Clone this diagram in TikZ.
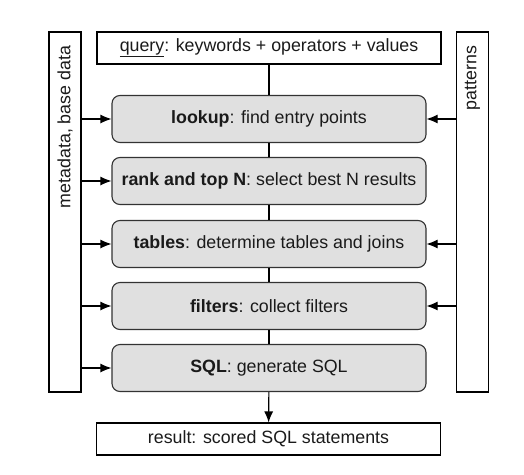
\documentclass[tikz,border=0pt]{standalone}
\usepackage{fontspec}
\setmainfont{Liberation Sans}
\usetikzlibrary{arrows.meta}
\definecolor{stagegray}{HTML}{E0E0E0}
\definecolor{ink}{HTML}{1A1A1A}
\begin{document}
\begin{tikzpicture}[x=1pt,y=-1pt,
  line width=1.1pt,
  >={Latex[length=11pt,width=9pt]},
  io/.style={draw, rectangle, inner sep=0pt, minimum width=344pt, minimum height=32pt,
    font=\fontsize{17.8}{20}\selectfont, text=ink},
  side/.style={draw, rectangle, inner sep=0pt, minimum width=32pt, minimum height=360pt},
  stage/.style={draw=black!80, rounded corners=8pt, fill=stagegray, inner sep=0pt,
    minimum width=314pt, minimum height=47pt, font=\fontsize{17.8}{20}\selectfont, text=ink}]
\useasboundingbox (0,0) rectangle (524,474);

\node[side] (meta) at (65,212) {};
\node[side] (pat) at (472.5,212) {};
\node[rotate=90, anchor=east, font=\fontsize{17.8}{20}\selectfont, text=ink] (metatxt) at (65,42) {metadata, base data};
\node[rotate=90, anchor=east, font=\fontsize{17.8}{20}\selectfont, text=ink] (pattxt) at (472.5,42) {patterns};

\node[io] (query) at (269,48) {\underline{query}: keywords + operators + values};
\node[stage] (lookup) at (269,119) {\textbf{lookup}: find entry points};
\node[stage] (rank) at (269,181) {\textbf{rank and top N}: select best N results};
\node[stage] (tables) at (269,244) {\textbf{tables}: determine tables and joins};
\node[stage] (filters) at (269,306) {\textbf{filters}: collect filters};
\node[stage] (sql) at (269,368) {\textbf{SQL}: generate SQL};
\node[io] (result) at (268.5,439) {result: scored SQL statements};

\path[draw] (query) -- (lookup);
\path[draw] (lookup) -- (rank);
\path[draw] (rank) -- (tables);
\path[draw] (tables) -- (filters);
\path[draw] (filters) -- (sql);
\path[draw,->] (sql) -- (result);

\path[draw,->] (meta.east |- lookup) -- (lookup);
\path[draw,->] (meta.east |- rank) -- (rank);
\path[draw,->] (meta.east |- tables) -- (tables);
\path[draw,->] (meta.east |- filters) -- (filters);
\path[draw,->] (meta.east |- sql) -- (sql);

\path[draw,->] (pat.west |- lookup) -- (lookup);
\path[draw,->] (pat.west |- tables) -- (tables);
\path[draw,->] (pat.west |- filters) -- (filters);
\end{tikzpicture}
\end{document}
